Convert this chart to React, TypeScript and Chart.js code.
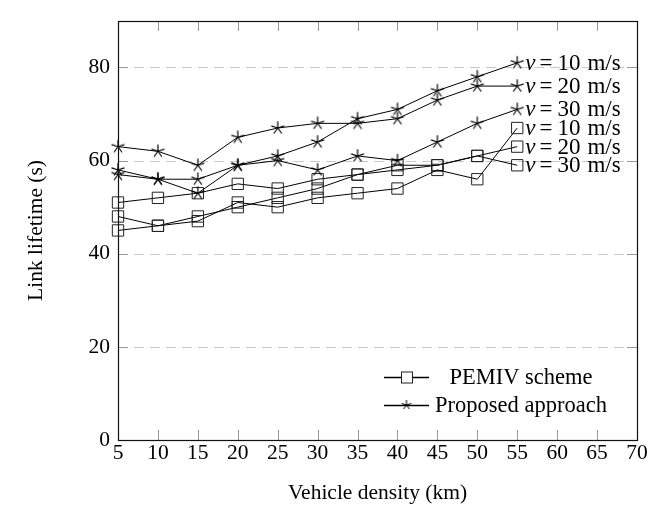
import React, { useEffect, useRef } from "react";
import { Chart, registerables } from "chart.js";
Chart.register(...registerables);

const densities = [5, 10, 15, 20, 25, 30, 35, 40, 45, 50, 55];
const proposed10 = [58, 56, 56, 59, 61, 64, 69, 71, 75, 78, 81];
const proposed20 = [63, 62, 59, 65, 67, 68, 68, 69, 73, 76, 76];
const proposed30 = [57, 56, 53, 59, 60, 58, 61, 60, 64, 68, 71];
const pemiv10 = [45, 46, 47, 51, 50, 52, 53, 54, 58, 56, 67];
const pemiv20 = [51, 52, 53, 55, 54, 56, 57, 59, 59, 61, 63];
const pemiv30 = [48, 46, 48, 50, 52, 54, 57, 58, 59, 61, 59];
const speedLabels = ["10 m/s", "20 m/s", "30 m/s", "10 m/s", "20 m/s", "30 m/s"];
const legendLabels = ["PEMIV scheme", "Proposed approach"];
const xTicks = [5, 10, 15, 20, 25, 30, 35, 40, 45, 50, 55, 60, 65, 70];
const yTicks = [0, 20, 40, 60, 80];
const xTitle = "Vehicle density (km)";
const yTitle = "Link lifetime (s)";

const FONT = "'Liberation Serif', 'DejaVu Serif', serif";

function makeStar(r: number, lw: number): HTMLCanvasElement {
  const s = Math.ceil(2 * r + 4);
  const c = document.createElement("canvas");
  c.width = s;
  c.height = s;
  const ctx = c.getContext("2d")!;
  ctx.strokeStyle = "#000";
  ctx.lineWidth = lw;
  ctx.beginPath();
  for (let i = 0; i < 5; i++) {
    const a = -Math.PI / 2 + (i * 2 * Math.PI) / 5;
    ctx.moveTo(s / 2, s / 2);
    ctx.lineTo(s / 2 + r * Math.cos(a), s / 2 + r * Math.sin(a));
  }
  ctx.stroke();
  return c;
}

export default function App() {
  const ref = useRef<HTMLCanvasElement | null>(null);
  useEffect(() => {
    if (!ref.current) return;
    const star = makeStar(6.8, 1.2);
    const smallStar = makeStar(5, 1);
    const toPts = (vals: number[]) => vals.map((v, i) => ({ x: densities[i], y: v }));
    const starDs = (vals: number[]) => ({
      data: toPts(vals),
      borderColor: "#000",
      borderWidth: 1,
      pointStyle: star as any,
      pointRadius: 6,
      clip: false as any,
      tension: 0,
    });
    const sqDs = (vals: number[]) => ({
      data: toPts(vals),
      borderColor: "#000",
      borderWidth: 1,
      pointStyle: "rect" as any,
      pointRadius: 8,
      pointBackgroundColor: "rgba(0,0,0,0)",
      pointBorderColor: "#222",
      pointBorderWidth: 1,
      clip: false as any,
      tension: 0,
    });

    const decor = {
      id: "decor",
      beforeDatasetsDraw(chart: any) {
        const { ctx, chartArea: ca, scales } = chart;
        const ys = scales.y;
        const xs = scales.x;
        ctx.save();
        ctx.lineWidth = 1;
        ctx.strokeStyle = "#c8c8c8";
        ctx.setLineDash([10, 6]);
        yTicks.forEach((v) => {
          if (v === 0) return;
          const y = Math.round(ys.getPixelForValue(v)) + 0.5;
          ctx.beginPath();
          ctx.moveTo(ca.left, y);
          ctx.lineTo(ca.right, y);
          ctx.stroke();
        });
        ctx.setLineDash([]);
        ctx.strokeStyle = "#999";
        const tl = 10;
        xTicks.forEach((v, i) => {
          if (i === 0 || i === xTicks.length - 1) return;
          const x = Math.round(xs.getPixelForValue(v)) + 0.5;
          ctx.beginPath();
          ctx.moveTo(x, ca.bottom);
          ctx.lineTo(x, ca.bottom - tl);
          ctx.moveTo(x, ca.top);
          ctx.lineTo(x, ca.top + tl);
          ctx.stroke();
        });
        yTicks.forEach((v) => {
          if (v === 0) return;
          const y = Math.round(ys.getPixelForValue(v)) + 0.5;
          ctx.beginPath();
          ctx.moveTo(ca.left, y);
          ctx.lineTo(ca.left + tl, y);
          ctx.moveTo(ca.right, y);
          ctx.lineTo(ca.right - tl, y);
          ctx.stroke();
        });
        ctx.restore();
      },
      afterDatasetsDraw(chart: any) {
        const { ctx, chartArea: ca } = chart;
        ctx.save();
        ctx.strokeStyle = "#111";
        ctx.lineWidth = 1.2;
        ctx.strokeRect(
          Math.round(ca.left) + 0.5,
          Math.round(ca.top) + 0.5,
          Math.round(ca.right - ca.left),
          Math.round(ca.bottom - ca.top)
        );
        ctx.fillStyle = "#000";
        ctx.textBaseline = "middle";
        ctx.textAlign = "left";
        const fs = 23;
        chart.data.datasets.forEach((ds: any, di: number) => {
          const meta = chart.getDatasetMeta(di);
          const last = meta.data[meta.data.length - 1];
          let x = last.x + 8;
          const y = last.y + 1;
          ctx.font = `italic ${fs}px ${FONT}`;
          ctx.fillText("v", x, y);
          x += ctx.measureText("v").width + 4;
          ctx.font = `${fs}px ${FONT}`;
          ctx.fillText("=", x, y);
          x += ctx.measureText("=").width + 5;
          const parts = speedLabels[di].split(" ");
          ctx.fillText(parts[0], x, y);
          x += ctx.measureText(parts[0]).width + 7;
          ctx.fillText(parts[1], x, y);
        });
        const markers = ["sq", "star"];
        legendLabels.forEach((lab, i) => {
          const y = ca.bottom - 63 + i * 28;
          const x1 = ca.right - 253;
          const x2 = ca.right - 208;
          ctx.strokeStyle = "#000";
          ctx.lineWidth = 1.6;
          ctx.beginPath();
          ctx.moveTo(x1, y + 0.5);
          ctx.lineTo(x2, y + 0.5);
          ctx.stroke();
          const mx = (x1 + x2) / 2;
          if (markers[i] === "sq") {
            ctx.lineWidth = 1;
            ctx.fillStyle = "#fff";
            ctx.fillRect(mx - 5.5, y - 5.5, 11, 11);
            ctx.strokeStyle = "#222";
            ctx.strokeRect(mx - 5.5 + 0.5, y - 5.5 + 0.5, 11, 11);
          } else {
            ctx.drawImage(smallStar, mx - smallStar.width / 2, y - smallStar.height / 2);
          }
          ctx.fillStyle = "#000";
          ctx.font = `22.5px ${FONT}`;
          ctx.textAlign = "center";
          ctx.fillText(lab, ca.right - 116, y + 1);
        });
        ctx.restore();
      },
    };

    const chart = new Chart(ref.current, {
      type: "line",
      data: {
        datasets: [
          starDs(proposed10),
          starDs(proposed20),
          starDs(proposed30),
          sqDs(pemiv10),
          sqDs(pemiv20),
          sqDs(pemiv30),
        ] as any,
      },
      options: {
        animation: false,
        responsive: false,
        layout: { padding: { top: 10, right: 25, left: 0, bottom: 0 } },
        plugins: { legend: { display: false }, tooltip: { enabled: false } },
        scales: {
          x: {
            type: "linear",
            min: 5,
            max: 70,
            afterBuildTicks: (s: any) => {
              s.ticks = xTicks.map((v) => ({ value: v }));
            },
            afterFit: (s: any) => {
              s.height = 70;
            },
            grid: { display: false, drawTicks: false },
            border: { display: false },
            ticks: {
              color: "#000",
              font: { family: FONT, size: 21.5 },
              padding: 0,
              maxRotation: 0,
              autoSkip: false,
            },
            title: {
              display: true,
              text: xTitle,
              color: "#000",
              font: { family: FONT, size: 21.5 },
              padding: { top: 0, bottom: 4 },
            },
          },
          y: {
            type: "linear",
            min: 0,
            max: 90,
            afterBuildTicks: (s: any) => {
              s.ticks = yTicks.map((v) => ({ value: v }));
            },
            afterFit: (s: any) => {
              s.width = 118;
            },
            grid: { display: false, drawTicks: false },
            border: { display: false },
            ticks: {
              color: "#000",
              font: { family: FONT, size: 21.5 },
              padding: 8,
            },
            title: {
              display: true,
              text: yTitle,
              color: "#000",
              font: { family: FONT, size: 21.5 },
              padding: { top: 23, bottom: 0 },
            },
          },
        },
      },
      plugins: [decor],
    });
    return () => chart.destroy();
  }, []);
  return (
    <div style={{ position: "absolute", left: 0, top: 0, width: 662, height: 510 }}>
      <canvas ref={ref} width={662} height={510} style={{ width: 662, height: 510 }} />
    </div>
  );
}
